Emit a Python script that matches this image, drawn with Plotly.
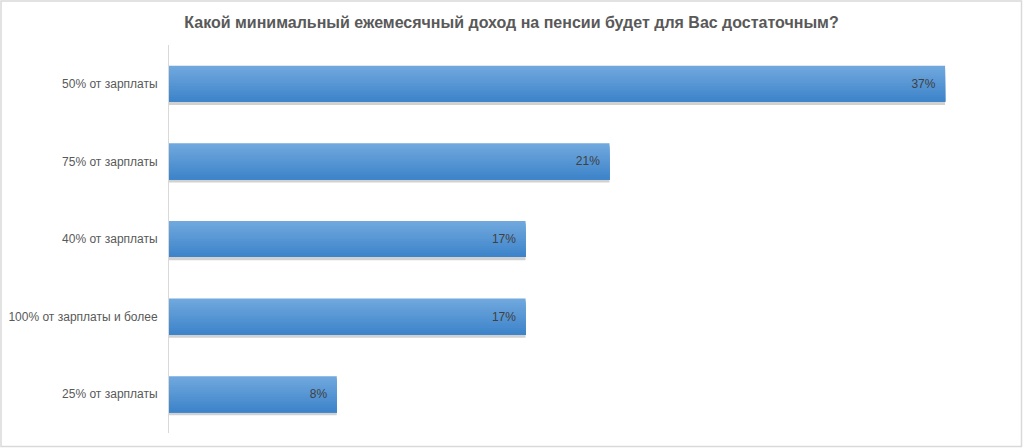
import plotly.graph_objects as go

# данные (снизу вверх, как рисует plotly)
categories = ["25% от зарплаты", "100% от зарплаты и более", "40% от зарплаты",
              "75% от зарплаты", "50% от зарплаты"]
values = [8, 17, 17, 21, 37]
labels = ["8%", "17%", "17%", "21%", "37%"]

title = "Какой минимальный ежемесячный доход на пенсии будет для Вас достаточным?"

bar_w = 0.465
top_col = (112, 168, 222)
bot_col = (62, 132, 202)
n_strips = 16

fig = go.Figure()

# тень под столбиками
fig.add_trace(go.Bar(
    y=categories, x=values, orientation="h",
    width=bar_w, offset=-bar_w / 2 - 0.04,
    marker=dict(color="rgba(0,0,0,0.18)", line=dict(width=0)),
    hoverinfo="skip", showlegend=False,
))

# градиент: каждая полоса идёт от своего верха до низа столбика
h = bar_w / n_strips
for i in range(n_strips):
    t = i / (n_strips - 1)
    c = tuple(round(top_col[k] + (bot_col[k] - top_col[k]) * t) for k in range(3))
    fig.add_trace(go.Bar(
        y=categories, x=values, orientation="h",
        width=bar_w - i * h, offset=-bar_w / 2,
        marker=dict(color="rgb(%d,%d,%d)" % c, line=dict(width=0)),
        hoverinfo="skip", showlegend=False,
    ))

# подписи значений
fig.add_trace(go.Bar(
    y=categories, x=values, orientation="h",
    width=bar_w,
    marker=dict(color="rgba(0,0,0,0)", line=dict(width=0)),
    text=[s + "\u00a0\u00a0" for s in labels],
    textposition="inside", insidetextanchor="end",
    textfont=dict(family="Liberation Sans, Arial", size=12, color="#404040"),
    showlegend=False,
))

fig.update_layout(
    width=1023, height=448,
    barmode="overlay",
    paper_bgcolor="white", plot_bgcolor="white",
    margin=dict(l=169, r=15, t=45, b=15),
    title=dict(text="<b>" + title + "</b>", x=0.5, xanchor="center",
               y=1 - 22 / 448, yanchor="middle",
               font=dict(family="Liberation Sans, Arial", size=16, color="#595959")),
    font=dict(family="Liberation Sans, Arial", size=12, color="#595959"),
    xaxis=dict(range=[0, 40], visible=False, fixedrange=True),
    yaxis=dict(showline=True, linecolor="#d9d9d9", linewidth=1, automargin=False,
               showgrid=False, ticks="", ticklabelstandoff=8,
               tickfont=dict(size=12, color="#595959")),
    shapes=[dict(type="rect", xref="paper", yref="paper",
                 x0=-168 / 839, x1=1 + 13.5 / 839, y0=-13.5 / 388, y1=1 + 44 / 388,
                 line=dict(color="#d9d9d9", width=1.5))],
)

fig.write_html("out.html", config={"displayModeBar": False},
               post_script="document.body.style.margin='0';document.body.style.overflow='hidden';")
